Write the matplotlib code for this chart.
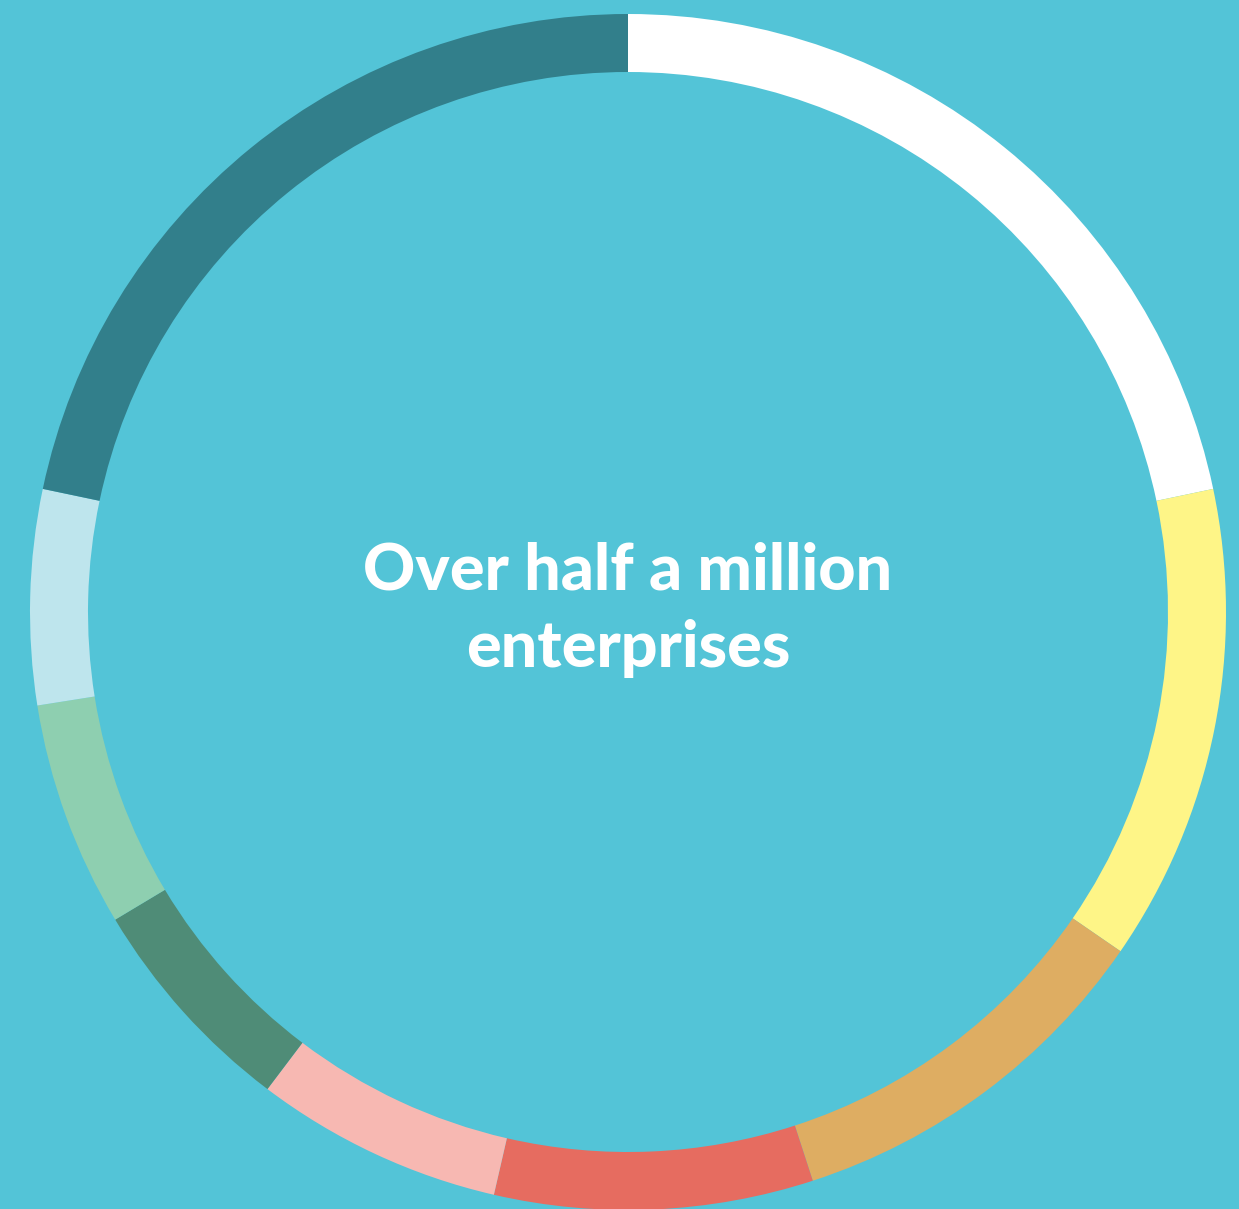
import matplotlib
matplotlib.use("Agg")
import matplotlib.pyplot as plt

# Data (shares read from the ring, percent)
categories = ["A", "B", "C", "D", "E", "F", "G", "H", "I"]
shares = [21.7, 12.9, 10.4, 8.6, 6.7, 6.1, 6.1, 5.8, 21.7]
colors = ["#FFFFFF", "#FEF587", "#DEAD62", "#E66C60", "#F7B8B2",
          "#4F8C77", "#8ECFB0", "#BEE5ED", "#327F8B"]
title_lines = ["Over half a million", "enterprises"]

BG = "#53C4D7"
W, H = 1239, 1209
fig = plt.figure(figsize=(W / 100, H / 100), dpi=100, facecolor=BG)
ax = fig.add_axes([0, 0, 1, 1])
ax.set_facecolor(BG)

cx, cy = 628, H - 612
R = 598
ring = 58
ax.pie(shares, colors=colors, startangle=90, counterclock=False,
       center=(cx, cy), radius=R,
       wedgeprops=dict(width=ring, linewidth=0), frame=True)

ax.set_xlim(0, W)
ax.set_ylim(0, H)
ax.set_aspect("equal")
ax.axis("off")

font = dict(family=["Lato", "DejaVu Sans"], weight="black", color="white",
            ha="center", va="baseline", fontsize=46.5)
ax.text(cx, H - 590, title_lines[0], **font)
ax.text(cx, H - 667, title_lines[1], **font)

fig.savefig("out.png", dpi=100, facecolor=BG)
